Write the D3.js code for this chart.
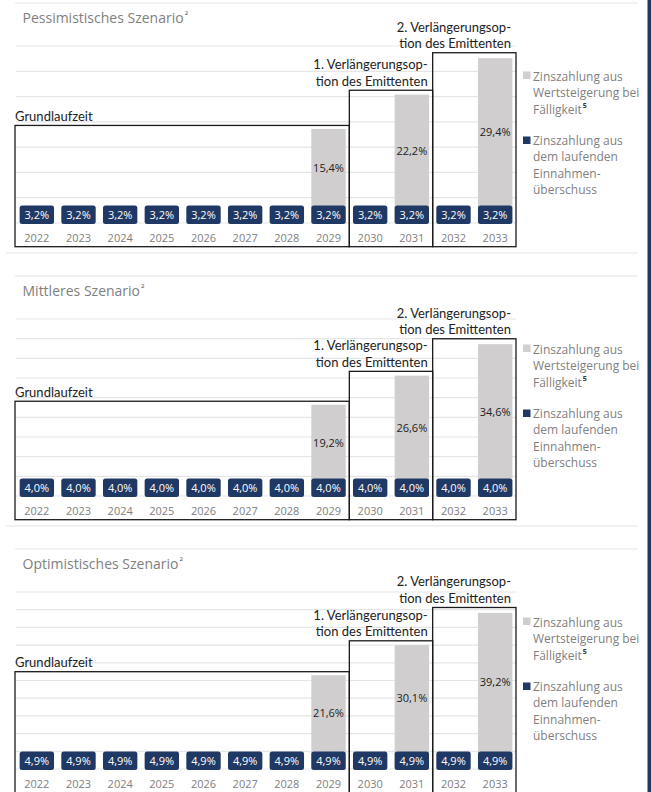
<!DOCTYPE html>
<html>
<head>
<meta charset="utf-8">
<script src="https://cdn.jsdelivr.net/npm/d3@7"></script>
<style>
  body { margin: 0; background: #fff; }
  svg { display: block; }
</style>
</head>
<body>
<script>
// Jahre auf der x-Achse
var years = ["2022", "2023", "2024", "2025", "2026", "2027",
             "2028", "2029", "2030", "2031", "2032", "2033"];

var titles = ["Pessimistisches Szenario", "Mittleres Szenario", "Optimistisches Szenario"];

// Zinszahlung aus dem laufenden Einnahmenüberschuss (dunkelblau)
var laufendPess = [3.2, 3.2, 3.2, 3.2, 3.2, 3.2, 3.2, 3.2, 3.2, 3.2, 3.2, 3.2];
var laufendMitt = [4.0, 4.0, 4.0, 4.0, 4.0, 4.0, 4.0, 4.0, 4.0, 4.0, 4.0, 4.0];
var laufendOpt  = [4.9, 4.9, 4.9, 4.9, 4.9, 4.9, 4.9, 4.9, 4.9, 4.9, 4.9, 4.9];

// Zinszahlung aus Wertsteigerung bei Fälligkeit (grau)
var wertPess = [0, 0, 0, 0, 0, 0, 0, 15.4, 0, 22.2, 0, 29.4];
var wertMitt = [0, 0, 0, 0, 0, 0, 0, 19.2, 0, 26.6, 0, 34.6];
var wertOpt  = [0, 0, 0, 0, 0, 0, 0, 21.6, 0, 30.1, 0, 39.2];

var yMax = [35, 45, 50];

// Laufzeit-Abschnitte
var phaseFrom = ["2022", "2030", "2032"];
var phaseTo = ["2029", "2031", "2033"];
var phaseLabels = [["Grundlaufzeit"],
                   ["1. Verlängerungsop-", "tion des Emittenten"],
                   ["2. Verlängerungsop-", "tion des Emittenten"]];

var legendGrey = ["Zinszahlung aus", "Wertsteigerung bei", "Fälligkeit"];
var legendBlue = ["Zinszahlung aus", "dem laufenden", "Einnahmen-", "überschuss"];

var laufend = [laufendPess, laufendMitt, laufendOpt];
var wert = [wertPess, wertMitt, wertOpt];

var navy = "#1f3864", grey = "#d0cece";
var W = 651, H = 792;
var panelStep = 273, base0 = 223, plotH = 177;
var boxPad = [3.5, 4.3, 5.4];

var de = d3.formatLocale({ decimal: ",", thousands: ".", grouping: [3], currency: ["", "€"] });
var pct = function(v) { return de.format(".1f")(v) + "%"; };

var svg = d3.select("body").append("svg")
    .attr("width", W).attr("height", H);

var x = d3.scaleBand().domain(years).range([16, 516])
    .paddingInner(0.175).paddingOuter(0.0875);
var gap = (x.step() - x.bandwidth()) / 2;

titles.forEach(function(title, p) {
  var base = base0 + p * panelStep;
  var g = svg.append("g");
  var y = d3.scaleLinear().domain([0, yMax[p]]).range([base, base - plotH]);

  // Trennlinien
  g.append("line").attr("x1", 15).attr("x2", 638)
    .attr("y1", base - 220).attr("y2", base - 220)
    .attr("stroke", "#e3e3e3").attr("stroke-width", 1.2);
  g.append("line").attr("x1", 6).attr("x2", 638)
    .attr("y1", base + 30).attr("y2", base + 30)
    .attr("stroke", "#e3e3e3").attr("stroke-width", 1.2);

  // Titel
  var t = g.append("text").attr("x", 22.5).attr("y", base - 200)
    .style("font", "14px 'Open Sans'").attr("fill", "#808080")
    .text(title);
  t.append("tspan").attr("dy", -8).attr("dx", 1)
    .style("font-size", "6px").attr("fill", "#444").text("2");

  // Gitterlinien
  g.selectAll(".grid").data(y.ticks(yMax[p] / 5)).enter().append("line")
    .attr("x1", 16).attr("x2", 516)
    .attr("y1", function(d) { return y(d); })
    .attr("y2", function(d) { return y(d); })
    .attr("stroke", "#e6e6e6").attr("stroke-width", 1.2);

  var rows = years.map(function(yr, i) {
    return { year: yr, lauf: laufend[p][i], wert: wert[p][i] };
  });

  // graue Balken (gestapelt auf den laufenden Anteil)
  g.selectAll(".wert").data(rows.filter(function(d) { return d.wert > 0; }))
    .enter().append("rect")
    .attr("x", function(d) { return x(d.year); })
    .attr("width", x.bandwidth())
    .attr("y", function(d) { return y(d.lauf + d.wert); })
    .attr("height", function(d) { return y(0) - y(d.lauf + d.wert); })
    .attr("fill", grey);

  g.selectAll(".wertLabel").data(rows.filter(function(d) { return d.wert > 0; }))
    .enter().append("text")
    .attr("x", function(d) { return x(d.year) + x.bandwidth() / 2; })
    .attr("y", function(d) { return (y(d.lauf) + y(d.lauf + d.wert)) / 2 + 4; })
    .attr("text-anchor", "middle")
    .style("font", "11px 'Open Sans'").attr("fill", "#222")
    .text(function(d) { return pct(d.wert); });

  // dunkelblaue Wertfelder
  g.selectAll(".lauf").data(rows).enter().append("rect")
    .attr("x", function(d) { return x(d.year); })
    .attr("width", x.bandwidth())
    .attr("y", y(0) - 17.5).attr("height", 18.5)
    .attr("rx", 2.5)
    .attr("fill", navy);

  g.selectAll(".laufLabel").data(rows).enter().append("text")
    .attr("x", function(d) { return x(d.year) + x.bandwidth() / 2; })
    .attr("y", y(0) - 4)
    .attr("text-anchor", "middle")
    .style("font", "11px 'Open Sans'").attr("fill", "#fff")
    .text(function(d) { return pct(d.lauf); });

  // Jahre
  var ax = g.append("g").attr("transform", "translate(0," + base + ")")
    .call(d3.axisBottom(x).tickSize(0).tickPadding(11));
  ax.select(".domain").remove();
  ax.selectAll("text").style("font", "11px 'Open Sans'").attr("fill", "#808080");

  // Laufzeit-Rahmen
  phaseFrom.forEach(function(from, k) {
    var to = phaseTo[k];
    var i = years.indexOf(to);
    var x0 = x(from) - gap - (k === 0 ? 1 : 0);
    var x1 = x(to) + x.bandwidth() + gap;
    var top = y(laufend[p][i] + wert[p][i]) - boxPad[k];
    g.append("rect")
      .attr("x", x0).attr("y", top)
      .attr("width", x1 - x0).attr("height", base + 23.7 - top)
      .attr("fill", "none").attr("stroke", "#1a1a1a").attr("stroke-width", 1.3);

    var lines = phaseLabels[k];
    lines.forEach(function(line, j) {
      g.append("text")
        .attr("x", k === 0 ? x0 : x1 - 5)
        .attr("y", top - 4.5 - (lines.length - 1 - j) * 16.5)
        .attr("text-anchor", k === 0 ? "start" : "end")
        .style("font", "13px Lato").attr("fill", "#222")
        .text(line);
    });
  });

  // Legende
  var lg = g.append("g").attr("transform", "translate(523," + (base - 151.5) + ")");
  lg.append("rect").attr("width", 7.5).attr("height", 7.5).attr("fill", grey);
  legendGrey.forEach(function(line, j) {
    var tx = lg.append("text").attr("x", 10).attr("y", 9 + j * 16.5)
      .style("font", "12px 'Open Sans'").attr("fill", "#7f7f7f").text(line);
    if (j === legendGrey.length - 1) {
      tx.append("tspan").attr("dy", -6).attr("dx", 1)
        .style("font-size", "7px").style("font-weight", "bold")
        .attr("fill", "#333").text("5");
    }
  });
  lg.append("rect").attr("y", 65).attr("width", 7.5).attr("height", 7.5).attr("fill", navy);
  legendBlue.forEach(function(line, j) {
    lg.append("text").attr("x", 10).attr("y", 73 + j * 16.5)
      .style("font", "12px 'Open Sans'").attr("fill", "#7f7f7f").text(line);
  });
});

// Randleiste rechts
svg.append("rect").attr("x", 647.5).attr("y", 0)
  .attr("width", 3.5).attr("height", H).attr("fill", navy);
</script>
</body>
</html>
